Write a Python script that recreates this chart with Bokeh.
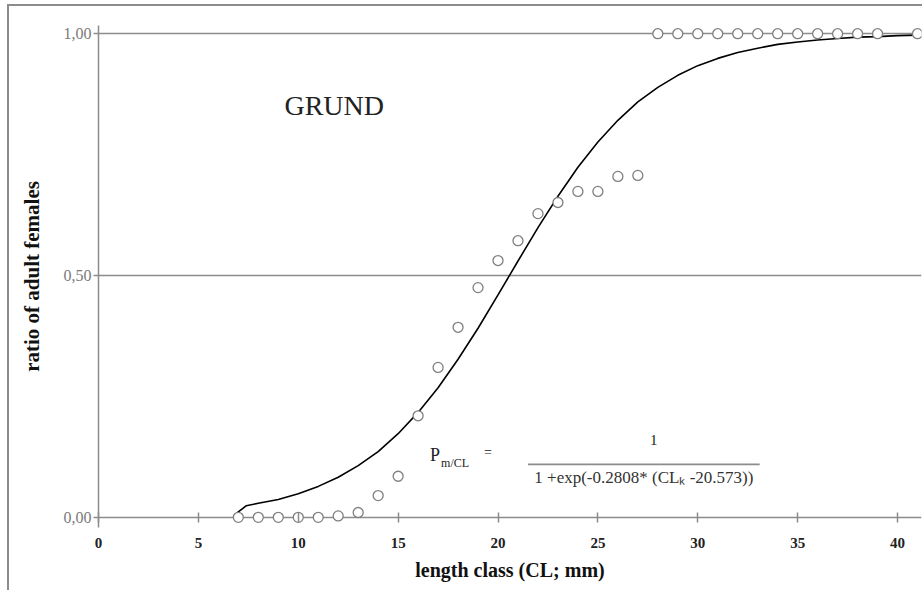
from bokeh.plotting import figure
from bokeh.models import Range1d, FixedTicker, Label, BoxAnnotation, CustomJSTickFormatter
from bokeh.embed import file_html
from bokeh.resources import INLINE

# observed ratio of adult females per length class (CL, mm)
obs_x = [7, 8, 9, 10, 11, 12, 13, 14, 15, 16, 17, 18, 19, 20, 21, 22, 23, 24, 25, 26, 27,
         28, 29, 30, 31, 32, 33, 34, 35, 36, 37, 38, 39, 41]
obs_y = [0.0, 0.0, 0.0, 0.0, 0.0, 0.003, 0.01, 0.045, 0.085, 0.21, 0.31, 0.393, 0.475, 0.531,
         0.572, 0.628, 0.651, 0.674, 0.674, 0.705, 0.707,
         1.0, 1.0, 1.0, 1.0, 1.0, 1.0, 1.0, 1.0, 1.0, 1.0, 1.0, 1.0, 1.0]

# fitted curve
fit_x = [6.9, 7.4, 8, 9, 10, 11, 12, 13, 14, 15, 16, 17, 18, 19, 20, 21, 22, 23, 24, 25, 26,
         27, 28, 29, 30, 31, 32, 33, 34, 35, 36, 37, 38, 39, 40, 41]
fit_y = [0.008, 0.024, 0.029, 0.037, 0.049, 0.064, 0.083, 0.107, 0.136, 0.173, 0.217, 0.268,
         0.327, 0.391, 0.460, 0.530, 0.599, 0.664, 0.724, 0.776, 0.821, 0.859, 0.889, 0.914,
         0.934, 0.949, 0.961, 0.970, 0.978, 0.983, 0.987, 0.990, 0.993, 0.994, 0.996, 0.997]

x_ticks = [0, 5, 10, 15, 20, 25, 30, 35, 40]
y_ticks = [0.0, 0.5, 1.0]

FONT = "Liberation Serif"
GREY = "#8c8c8c"

p = figure(width=915, height=586, x_range=Range1d(0, 41.2), y_range=Range1d(-0.021, 1.017),
           output_backend="svg", toolbar_location=None,
           min_border_left=89, min_border_right=3, min_border_top=19, min_border_bottom=65)
p.styles = {"border-left": "2px solid #8c8c8c", "border-top": "2px solid #8c8c8c",
            "margin-left": "7px", "margin-top": "4px"}
p.outline_line_color = None
p.background_fill_color = "white"
p.border_fill_color = "white"

# horizontal grid (also serves as the x axis line at 0)
p.xgrid.visible = False
p.ygrid.ticker = FixedTicker(ticks=y_ticks)
p.ygrid.grid_line_color = GREY
p.ygrid.grid_line_width = 1.5

xa = p.xaxis[0]
xa.ticker = FixedTicker(ticks=x_ticks)
xa.axis_line_color = None
xa.major_tick_line_color = GREY
xa.major_tick_line_width = 1.5
xa.major_tick_in = 15
xa.major_tick_out = -5
xa.minor_tick_line_color = None
xa.major_label_standoff = 10
xa.major_label_text_font = FONT
xa.major_label_text_font_size = "15px"
xa.major_label_text_font_style = "bold"
xa.major_label_text_color = "#222222"
xa.axis_label = "length class (CL; mm)"
xa.axis_label_text_font = FONT
xa.axis_label_text_font_size = "20px"
xa.axis_label_text_font_style = "bold"
xa.axis_label_text_color = "#111111"
xa.axis_label_standoff = 8

ya = p.yaxis[0]
ya.ticker = FixedTicker(ticks=y_ticks)
ya.formatter = CustomJSTickFormatter(code="return tick.toFixed(2).replace('.', ',');")
ya.axis_line_color = GREY
ya.axis_line_width = 1.5
ya.major_tick_line_color = GREY
ya.major_tick_line_width = 1.5
ya.major_tick_in = 0
ya.major_tick_out = 5
ya.minor_tick_line_color = None
ya.major_label_standoff = 2
ya.major_label_text_font = FONT
ya.major_label_text_font_size = "16px"
ya.major_label_text_color = "#7a7a7a"
ya.axis_label = "ratio of adult females"
ya.axis_label_text_font = FONT
ya.axis_label_text_font_size = "21px"
ya.axis_label_text_font_style = "bold"
ya.axis_label_text_color = "#111111"
ya.axis_label_standoff = 17

# fitted curve and observations
p.line(fit_x, fit_y, line_color="black", line_width=1.6)
p.scatter(obs_x, obs_y, marker="circle", size=10, fill_color="white", fill_alpha=1.0,
          line_color="#7f7f7f", line_width=1.3)

# annotations
p.add_layout(Label(x=11.8, y=0.851, text="GRUND", text_font=FONT, text_font_size="28px",
                   text_align="center", text_baseline="middle", text_color="#222222"))
p.add_layout(Label(x=16.6, y=0.128, text="P", text_font=FONT, text_font_size="18px",
                   text_align="left", text_baseline="middle", text_color="#222222"))
p.add_layout(Label(x=17.15, y=0.112, text="m/CL", text_font=FONT, text_font_size="12px",
                   text_align="left", text_baseline="middle", text_color="#222222"))
p.add_layout(Label(x=19.3, y=0.134, text="=", text_font=FONT, text_font_size="14px",
                   text_align="left", text_baseline="middle", text_color="#222222"))
p.add_layout(Label(x=27.8, y=0.160, text="1", text_font=FONT, text_font_size="15px",
                   text_align="center", text_baseline="middle", text_color="#222222"))
p.add_layout(BoxAnnotation(left=21.5, right=33.1, bottom=0.1075, top=0.1115,
                           fill_color=GREY, fill_alpha=1.0, line_color=None))
p.add_layout(Label(x=27.3, y=0.082, text="1 +exp(-0.2808* (CL\u2096 -20.573))", text_font=FONT,
                   text_font_size="17px", text_align="center", text_baseline="middle",
                   text_color="#333333"))

open("out.html", "w").write(file_html(p, INLINE))
